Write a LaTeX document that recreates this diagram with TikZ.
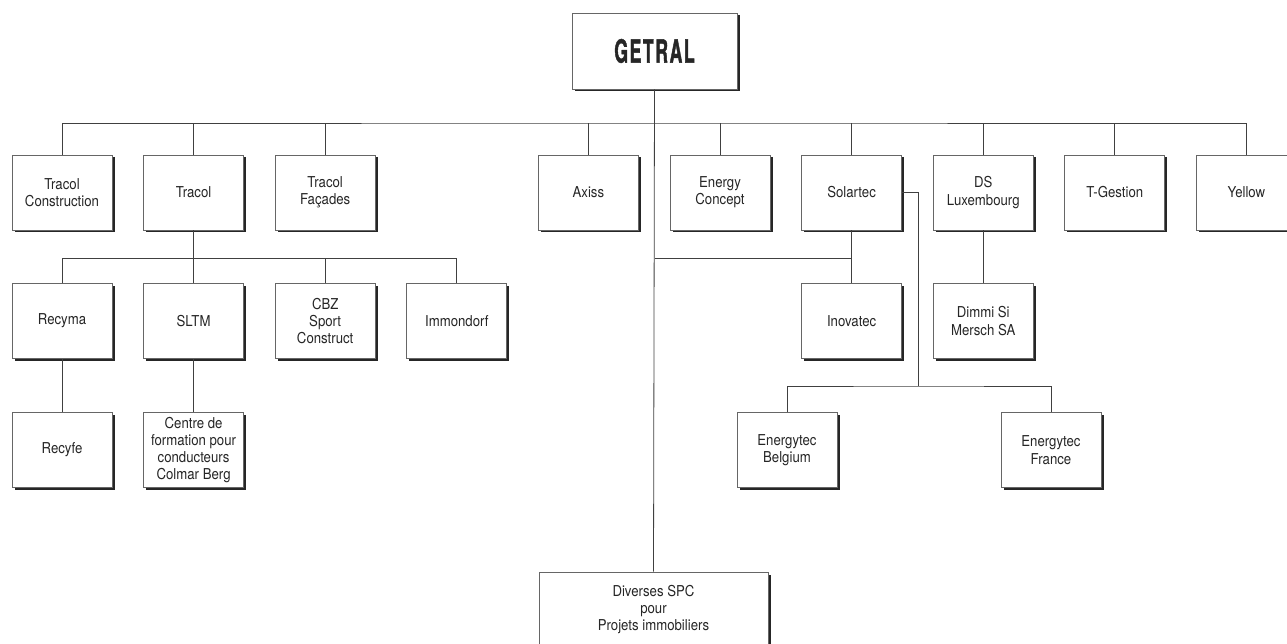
\documentclass[tikz,border=0pt]{standalone}
\usepackage{fontspec}
\setmainfont[FakeStretch=0.88]{TeX Gyre Heros}
\newfontfamily\getralfont[FakeStretch=0.55, LetterSpace=5, FakeBold=1.2]{TeX Gyre Heros}
\usepackage{tikz}
\usetikzlibrary{shadows,positioning}

\begin{document}
\begin{tikzpicture}[x=1pt,y=1pt]
    \tikzstyle{entity} = [shape=rectangle, draw=black!60, fill=white, line width=0.7pt, minimum width=100pt, minimum height=75pt, inner sep=2pt, align=center, text=black!85, font=\fontsize{15}{17.3}\selectfont, drop shadow={shadow xshift=2.5pt, shadow yshift=-2.5pt, fill=black!85, opacity=1}];
    \tikzstyle{link} = [draw=black!75, line width=0.8pt];

    \useasboundingbox (0,0) rectangle (1287,643);

    \node[entity, minimum width=165pt, minimum height=76pt, font=\getralfont\bfseries\fontsize{32}{32}\selectfont](G) at (654.5,592) {GETRAL};

    % first level
    \node[entity](TC) at (62,450.5) {Tracol\\Construction};
    \node[entity](T) at (193.6,450.5) {Tracol};
    \node[entity](TF) at (325.2,450.5) {Tracol\\Façades};
    \node[entity](AX) at (588.4,450.5) {Axiss};
    \node[entity](EC) at (720,450.5) {Energy\\Concept};
    \node[entity](SO) at (851.6,450.5) {Solartec};
    \node[entity](DS) at (983.2,450.5) {DS\\Luxembourg};
    \node[entity](TG) at (1114.8,450.5) {T-Gestion};
    \node[entity](Y) at (1246.4,450.5) {Yellow};

    % second level
    \node[entity](RM) at (62,322) {Recyma};
    \node[entity](SL) at (193.6,322) {SLTM};
    \node[entity](CB) at (325.2,322) {CBZ\\Sport\\Construct};
    \node[entity](IM) at (456.8,322) {Immondorf};
    \node[entity](IN) at (851.6,322) {Inovatec};
    \node[entity](DM) at (983.2,322) {Dimmi Si\\Mersch SA};

    % third level
    \node[entity](RF) at (62,193) {Recyfe};
    \node[entity](CF) at (193.6,193) {Centre de\\formation pour\\conducteurs\\Colmar Berg};
    \node[entity](EB) at (787,193) {Energytec\\Belgium};
    \node[entity](EF) at (1051,193) {Energytec\\France};

    \node[entity, minimum width=229pt](DV) at (653.5,33.5) {Diverses SPC\\pour\\Projets immobiliers};

    \coordinate (top) at (654.5,520);
    \coordinate (mid) at (654.5,385);
    \coordinate (etec) at (918,257);

    \draw[link] (TC.north) |- (top) -| (Y.north);
    \foreach \n in {T,TF,AX,EC,SO,DS,TG}
        \draw[link] (\n.north) -- (\n.north |- top);
    \draw[link] (G.south) -- (DV.north);

    \draw[link] (RM.north) |- (IM.north |- mid) -- (IM.north);
    \draw[link] (T.south) -- (SL.north);
    \draw[link] (CB.north) -- (CB.north |- mid);
    \draw[link] (RM.south) -- (RF.north);
    \draw[link] (SL.south) -- (CF.north);

    \draw[link] (mid) -| (IN.north);
    \draw[link] (SO.south) -- (IN.north);
    \draw[link] (DS.south) -- (DM.north);

    \draw[link] (SO.east) -| (etec);
    \draw[link] (EB.north) |- (etec) -| (EF.north);
\end{tikzpicture}
\end{document}
